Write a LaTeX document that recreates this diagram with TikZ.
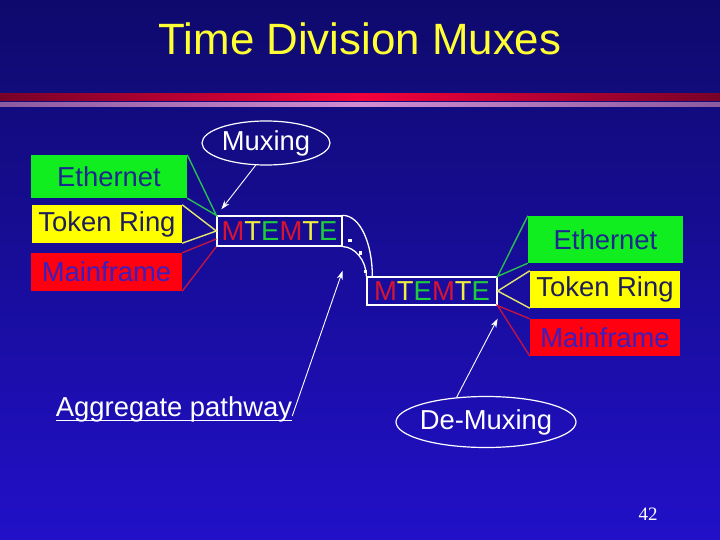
\documentclass[tikz,border=0pt]{standalone}
\usepackage{fontspec}
\setmainfont{Liberation Sans}
\newfontfamily\slidenumfont{Liberation Serif}
\usetikzlibrary{arrows.meta,shapes.geometric}
\definecolor{bgtop}{RGB}{14,10,108}
\definecolor{bgbottom}{RGB}{33,16,200}
\definecolor{titleyellow}{RGB}{255,255,51}
\definecolor{barred}{RGB}{245,0,60}
\definecolor{bardark}{RGB}{120,0,40}
\definecolor{barpink}{RGB}{210,140,210}
\definecolor{barmauve}{RGB}{140,90,160}
\definecolor{ethfill}{RGB}{16,238,32}
\definecolor{tokfill}{RGB}{255,255,0}
\definecolor{mainfill}{RGB}{255,0,16}
\definecolor{ethtext}{RGB}{30,40,140}
\definecolor{toktext}{RGB}{30,30,90}
\definecolor{maintext}{RGB}{60,30,190}
\definecolor{mred}{RGB}{215,20,50}
\definecolor{tyellow}{RGB}{240,240,60}
\definecolor{egreen}{RGB}{30,205,60}
\definecolor{ethline}{RGB}{40,190,80}
\definecolor{tokline}{RGB}{230,230,110}
\definecolor{mainline}{RGB}{190,20,70}
\newcommand{\mtemte}{\textcolor{mred}{M}\textcolor{tyellow}{T}\textcolor{egreen}{E}%
  \textcolor{mred}{M}\textcolor{tyellow}{T}\textcolor{egreen}{E}}

\begin{document}
\begin{tikzpicture}[
      x=1bp, y=-1bp,
      chan/.style={inner sep=0pt, font=\fontsize{27.5}{30}\selectfont},
      frame/.style={draw=white, line width=1.3bp, inner sep=0pt,
                    font=\fontsize{27.5}{30}\selectfont},
      bubble/.style={ellipse, draw=white, line width=1.2bp, text=white,
                     inner sep=0pt, font=\fontsize{27.5}{30}\selectfont},
      arr/.style={-{Stealth[length=9bp,width=6bp]}, white, line width=0.9bp},
      feed/.style={line width=1.4bp}
    ]
    \useasboundingbox (0,0) rectangle (720,540);
    \shade[top color=bgtop, bottom color=bgbottom] (0,0) rectangle (720,540);
    \shade[left color=bardark, right color=bardark, middle color=barred]
      (0,94) rectangle (720,100.5);
    \shade[left color=barmauve, right color=barmauve, middle color=barpink]
      (0,103) rectangle (720,106.5);

    \node[text=titleyellow, font=\fontsize{44}{48}\selectfont, anchor=base]
      (title) at (360,55) {Time Division Muxes};

    \node[chan, fill=ethfill, text=ethtext, minimum width=156bp,
          minimum height=43bp] (ethL) at (109,176.5) {Ethernet};
    \node[chan, fill=tokfill, text=toktext, minimum width=150bp,
          minimum height=38bp] (tokL) at (107,224) {Token Ring};
    \node[chan, fill=mainfill, text=maintext, minimum width=151bp,
          minimum height=38bp] (mainL) at (106.5,272) {Mainframe};

    \node[chan, fill=ethfill, text=ethtext, minimum width=155bp,
          minimum height=47bp] (ethR) at (605.5,239.5) {Ethernet};
    \node[chan, fill=tokfill, text=toktext, minimum width=150bp,
          minimum height=37bp] (tokR) at (605,289.5) {Token Ring};
    \node[chan, fill=mainfill, text=maintext, minimum width=150bp,
          minimum height=37bp] (mainR) at (605,337.5) {Mainframe};

    \node[frame, minimum width=125bp, minimum height=30bp] (muxL)
      at (279.5,231) {\mtemte};
    \node[frame, minimum width=130bp, minimum height=28bp] (muxR)
      at (432,291) {\mtemte};

    \node[bubble, minimum width=128bp, minimum height=44bp] (muxing)
      at (266,143) {Muxing};
    \node[bubble, inner xsep=-5bp, minimum width=180bp, minimum height=51bp]
      (demux) at (486,422) {De-Muxing};
    \node[text=white, inner sep=0pt, anchor=base,
          font=\fontsize{27.5}{30}\selectfont] (aggr) at (174,416)
      {Aggregate pathway};
    \draw[white, line width=1bp] ([yshift=-4bp]aggr.base west)
      -- ([yshift=-4bp]aggr.base east);

    \draw[feed, ethline] (ethL.north east) -- (muxL.north west) -- (ethL.south east);
    \draw[feed, tokline] (tokL.north east) -- (muxL.west) -- (tokL.south east);
    \draw[feed, mainline] (mainL.north east) -- ([yshift=-8bp]muxL.west);
    \draw[feed, mainline] (mainL.south east) -- (muxL.south west);

    \draw[feed, ethline] (ethR.north west) -- (muxR.north east) -- (ethR.south west);
    \draw[feed, tokline] (tokR.north west) -- (muxR.east) -- (tokR.south west);
    \draw[feed, mainline] (mainR.north west) -- (muxR.south east) -- (mainR.south west);

    \draw[white, line width=1.3bp] (muxL.north east)
      .. controls ([xshift=18bp]muxL.north east)
      and ([shift={(6,-32)}]muxR.north west) .. ([xshift=6bp]muxR.north west);
    \draw[white, line width=1.3bp] (muxL.south east)
      .. controls ([xshift=12bp]muxL.south east)
      and ([yshift=16bp]muxR.north west) .. (muxR.north west);
    \fill[white] (348,239) rectangle +(3.5,3.5);
    \fill[white] (358.5,251.5) rectangle +(3.5,3.5);
    \fill[white] (363.5,269.5) rectangle +(3.5,3.5);

    \draw[arr] (muxing.245) -- ([shift={(5,-6)}]muxL.north west);
    \draw[arr] (aggr.base east) -- ([yshift=-24bp]muxL.south east);
    \draw[arr] (demux.140) -- ([yshift=-13bp]muxR.south east);

    \node[text=white, font=\slidenumfont\fontsize{19}{22}\selectfont,
          anchor=base] (pagenum) at (648,520) {42};
  \end{tikzpicture}
\end{document}
